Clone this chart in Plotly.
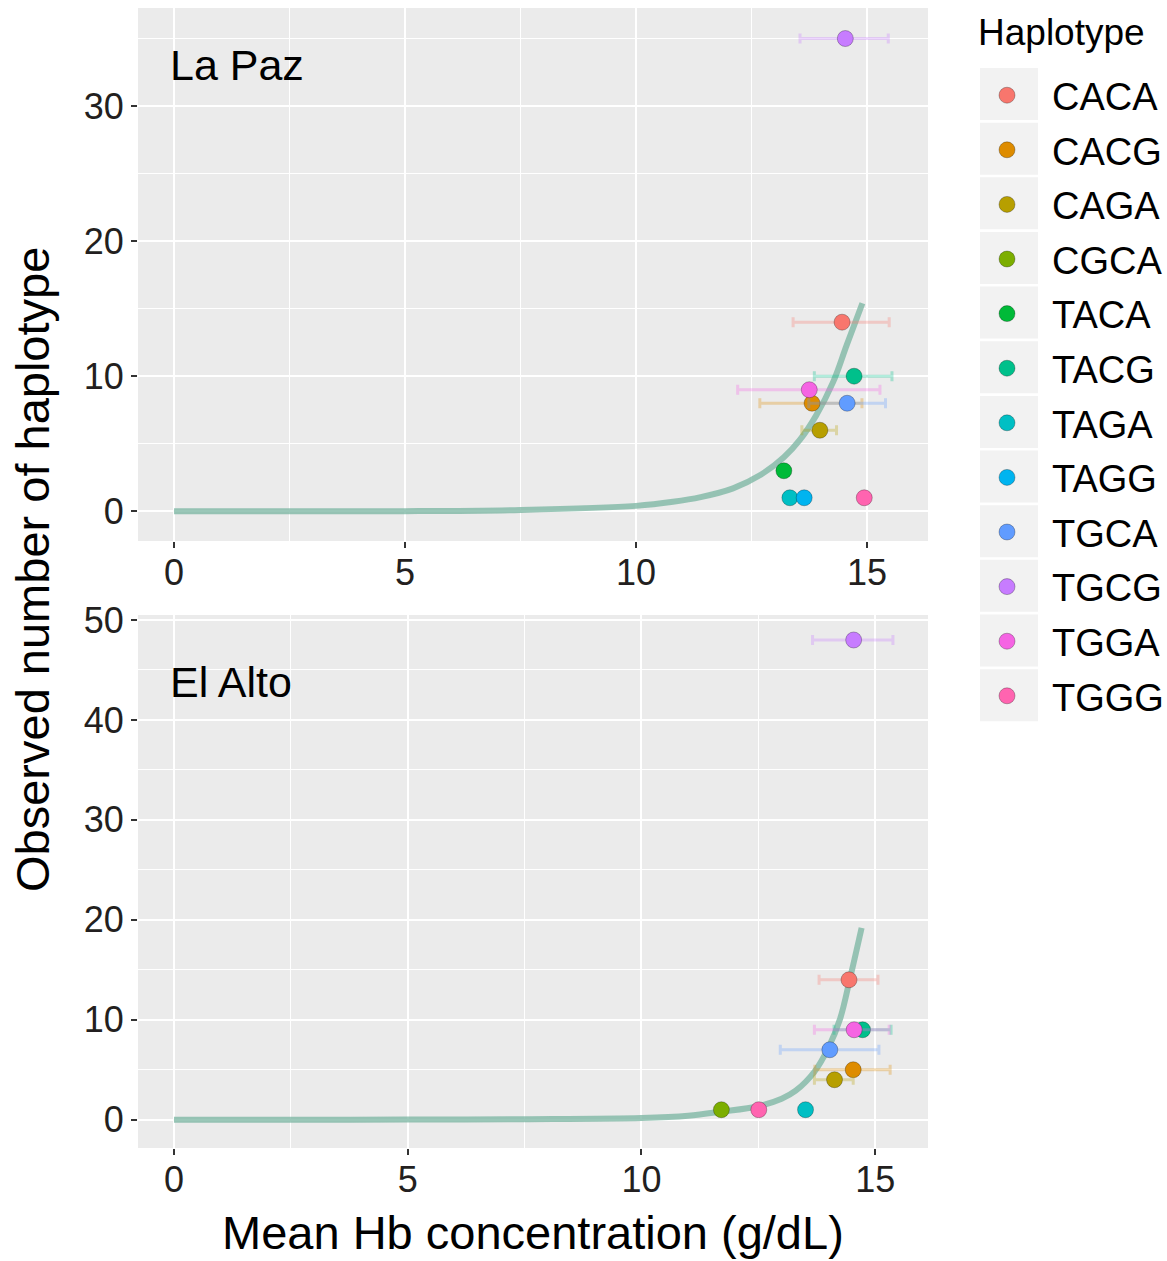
import plotly.graph_objects as go

# ---------------- data ----------------
haplotypes = ["CACA", "CACG", "CAGA", "CGCA", "TACA", "TACG",
              "TAGA", "TAGG", "TGCA", "TGCG", "TGGA", "TGGG"]
hap_colors = ["#F8766D", "#DE8C00", "#B79F00", "#7CAE00", "#00BA38", "#00C08B",
              "#00BFC4", "#00B4F0", "#619CFF", "#C77CFF", "#F564E3", "#FF64B0"]

# La Paz
lp_hap = ["CACA", "CACG", "CAGA", "TACA", "TACG", "TAGA", "TAGG", "TGCA", "TGCG", "TGGA", "TGGG"]
lp_hb = [14.46, 13.81, 13.98, 13.20, 14.72, 13.33, 13.64, 14.57, 14.53, 13.75, 14.94]
lp_n = [14, 8, 6, 3, 10, 1, 1, 8, 35, 9, 1]
lp_lo = [13.40, 12.68, 13.59, None, 13.86, None, None, 13.74, 13.55, 12.20, None]
lp_hi = [15.48, 14.89, 14.34, None, 15.54, None, None, 15.40, 15.46, 15.28, None]

# El Alto
ea_hap = ["CACA", "CACG", "CAGA", "CGCA", "TACG", "TAGA", "TGCA", "TGCG", "TGGA", "TGGG"]
ea_hb = [14.44, 14.53, 14.13, 11.71, 14.73, 13.51, 14.03, 14.54, 14.55, 12.51]
ea_n = [14, 5, 4, 1, 9, 1, 7, 48, 9, 1]
ea_lo = [13.80, 13.71, 13.70, None, 14.12, None, 12.97, 13.66, 13.70, None]
ea_hi = [15.06, 15.32, 14.53, None, 15.34, None, 15.08, 15.38, 15.30, None]

# fitted curves
lp_curve_x = [0, 2.5, 5, 7.5, 10, 10.8, 11.4, 12.1, 12.7, 13.2, 13.55, 13.9, 14.27, 14.56, 14.9]
lp_curve_y = [0, 0.0, 0.01, 0.1, 0.4, 0.7, 1.05, 1.7, 2.7, 4.0, 5.3, 7.1, 9.6, 12.3, 15.4]
ea_curve_x = [0, 2.5, 5, 7.5, 10, 11, 11.7, 12.5, 13.0, 13.3, 13.7, 14.0, 14.25, 14.46, 14.71]
ea_curve_y = [0, 0.0, 0.01, 0.05, 0.17, 0.4, 0.8, 1.35, 2.1, 2.9, 4.8, 7.2, 10.1, 14.1, 19.2]

panel_labels = ["La Paz", "El Alto"]

# ---------------- layout constants ----------------
W, H = 1167, 1261
ML, MR, MT, MB = 138, 239, 8, 113
PW = W - ML - MR
PH = H - MT - MB
FONT = "Liberation Sans, Arial, sans-serif"
TXT = "#231F20"
CURVE = "rgba(120,180,160,0.75)"


def px_to_py(ypx):
    return (H - MB - ypx) / PH


def px_to_px(xpx):
    return (xpx - ML) / PW


fig = go.Figure()

# curves first (below points)
fig.add_trace(go.Scatter(x=lp_curve_x, y=lp_curve_y, mode="lines", line=dict(color=CURVE, width=6, shape="spline"),
                         showlegend=False, hoverinfo="skip", xaxis="x", yaxis="y"))
fig.add_trace(go.Scatter(x=ea_curve_x, y=ea_curve_y, mode="lines", line=dict(color=CURVE, width=6, shape="spline"),
                         showlegend=False, hoverinfo="skip", xaxis="x2", yaxis="y2"))


def rgba(hexc, a):
    hexc = hexc.lstrip("#")
    r, g, b = int(hexc[0:2], 16), int(hexc[2:4], 16), int(hexc[4:6], 16)
    return f"rgba({r},{g},{b},{a})"


for h, col in zip(haplotypes, hap_colors):
    shown = False
    for (haps, hb, n, lo, hi, xa, ya) in [(lp_hap, lp_hb, lp_n, lp_lo, lp_hi, "x", "y"),
                                            (ea_hap, ea_hb, ea_n, ea_lo, ea_hi, "x2", "y2")]:
        if h not in haps:
            continue
        i = haps.index(h)
        err = None
        if lo[i] is not None:
            err = dict(type="data", symmetric=False, array=[hi[i] - hb[i]], arrayminus=[hb[i] - lo[i]],
                       color=rgba(col, 0.3), thickness=3, width=5)
        fig.add_trace(go.Scatter(
            x=[hb[i]], y=[n[i]], mode="markers", name=h, legendgroup=h,
            showlegend=not shown,
            marker=dict(color=col, size=16, line=dict(color="rgba(0,0,0,0.45)", width=0.6)),
            error_x=err, xaxis=xa, yaxis=ya))
        shown = True

axis_common = dict(
    showgrid=True, gridcolor="white", gridwidth=2.4, zeroline=False, automargin=False,
    ticks="outside", ticklen=6, tickwidth=2.2, tickcolor="#333333",
    tickfont=dict(family=FONT, size=36, color=TXT), showline=False,
)

top_dom = [px_to_py(541), 1.0]
bot_dom = [0.0, px_to_py(615)]

fig.update_layout(
    width=W, height=H,
    margin=dict(l=ML, r=MR, t=MT, b=MB, autoexpand=False),
    paper_bgcolor="white", plot_bgcolor="#EBEBEB",
    font=dict(family=FONT, color=TXT),
    xaxis=dict(domain=[0, 1], anchor="y", range=[-0.78, 16.32], tickvals=[0, 5, 10, 15], ticklabelstandoff=-6,
               minor=dict(dtick=2.5, tick0=0, showgrid=True, gridcolor="white", gridwidth=1.1), **axis_common),
    yaxis=dict(domain=top_dom, anchor="x", range=[-2.2, 37.26], tickvals=[0, 10, 20, 30],
               minor=dict(dtick=5, tick0=0, showgrid=True, gridcolor="white", gridwidth=1.1), **axis_common),
    xaxis2=dict(domain=[0, 1], anchor="y2", range=[-0.77, 16.13], tickvals=[0, 5, 10, 15], ticklabelstandoff=-6,
                minor=dict(dtick=2.5, tick0=0, showgrid=True, gridcolor="white", gridwidth=1.1), **axis_common),
    yaxis2=dict(domain=bot_dom, anchor="x2", range=[-2.83, 50.5], tickvals=[0, 10, 20, 30, 40, 50],
                minor=dict(dtick=5, tick0=0, showgrid=True, gridcolor="white", gridwidth=1.1), **axis_common),
    legend=dict(
        x=px_to_px(962), y=px_to_py(64), xanchor="left", yanchor="top",
        font=dict(family=FONT, size=38, color="black"),
        tracegroupgap=2.2, itemwidth=80, bgcolor="rgba(0,0,0,0)",
    ),
    showlegend=True,
)

# legend title
fig.add_annotation(text="Haplotype", xref="paper", yref="paper", x=px_to_px(976), y=px_to_py(33),
                   xanchor="left", yanchor="middle", showarrow=False,
                   font=dict(family=FONT, size=37, color="black"))

# panel labels
fig.add_annotation(text=panel_labels[0], xref="x domain", yref="y domain", x=px_to_px(168), y=(541 - 65) / 533,
                   xanchor="left", yanchor="middle", showarrow=False,
                   font=dict(family=FONT, size=43, color="black"))
fig.add_annotation(text=panel_labels[1], xref="x2 domain", yref="y2 domain", x=px_to_px(168), y=(1148 - 682) / 533,
                   xanchor="left", yanchor="middle", showarrow=False,
                   font=dict(family=FONT, size=43, color="black"))

# axis titles
fig.add_annotation(text="Mean Hb concentration (g/dL)", xref="paper", yref="paper",
                   x=0.5, y=px_to_py(1233), xanchor="center", yanchor="middle", showarrow=False,
                   font=dict(family=FONT, size=47, color="black"))
fig.add_annotation(text="Observed number of haplotype", xref="paper", yref="paper",
                   x=px_to_px(32), y=px_to_py(570), xanchor="center", yanchor="middle", showarrow=False,
                   textangle=-90, font=dict(family=FONT, size=47, color="black"))

# legend key backgrounds
for i in range(len(haplotypes)):
    top = 68 + i * 54.65
    fig.add_shape(type="rect", xref="paper", yref="paper",
                  x0=px_to_px(980), x1=px_to_px(1038), y0=px_to_py(top + 52), y1=px_to_py(top),
                  fillcolor="#F2F2F2", line=dict(width=0), layer="below")

fig.write_html("out.html", config={"displayModeBar": False},
               post_script="document.body.style.margin='0';document.body.style.overflow='hidden';")
